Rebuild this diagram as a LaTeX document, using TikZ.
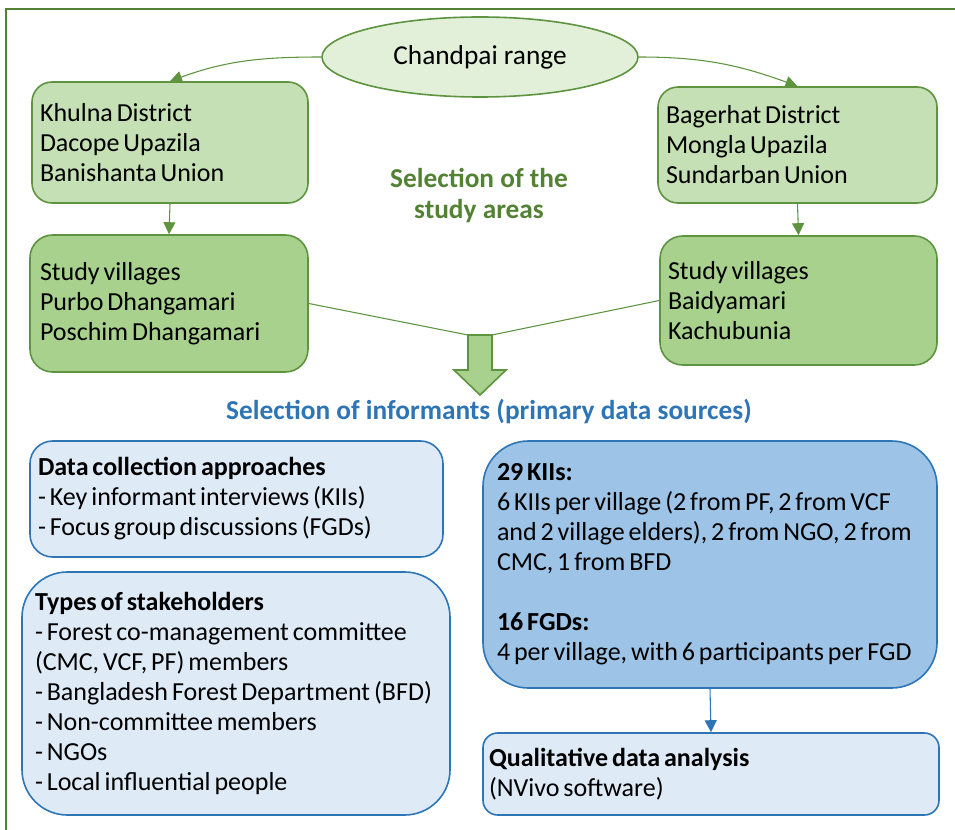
\documentclass[tikz,border=0pt]{standalone}
\usepackage{fontspec}
\setmainfont{Carlito}
\usetikzlibrary{arrows.meta,shapes.geometric}

\definecolor{framegreen}{HTML}{538135}
\definecolor{edgegreen}{HTML}{5E9440}
\definecolor{palegreen}{HTML}{E2F0D9}
\definecolor{lightgreen}{HTML}{C5E0B4}
\definecolor{midgreen}{HTML}{A9D18E}
\definecolor{titlegreen}{HTML}{548235}
\definecolor{edgeblue}{HTML}{2E75B6}
\definecolor{titleblue}{HTML}{2E75B6}
\definecolor{paleblue}{HTML}{DEEBF7}
\definecolor{midblue}{HTML}{9DC3E6}

\tikzset{
  txt/.style={font=\fontsize{19.5pt}{22.5pt}\selectfont,
    execute at begin node={\spaceskip=0.15em plus 0.05em\relax\xspaceskip=0.2em\relax}},
  greenbox/.style={txt, draw=edgegreen, line width=1.2pt, align=left, inner ysep=0pt},
  bluebox/.style={txt, draw=edgeblue, line width=1.2pt, align=left, inner ysep=0pt},
  heading/.style={font=\fontsize{20.5pt}{23.25pt}\selectfont\bfseries},
  greenlink/.style={draw=edgegreen, line width=0.8pt},
  greenarrow/.style={greenlink, -{Triangle[length=9pt,width=9pt]}},
  bluearrow/.style={draw=edgeblue, line width=0.8pt, -{Triangle[length=9pt,width=9pt]}},
}

\begin{document}
\begin{tikzpicture}[x=0.75pt,y=-0.75pt]
  \useasboundingbox (0,0) rectangle (955,830);
  \fill[white] (0,0) rectangle (955,830);
  % outer frame
  \draw[framegreen, line width=1.9pt] (6,9) rectangle (975,850);

  % study area selection
  \node[ellipse, draw=edgegreen, fill=palegreen, line width=1.2pt,
        minimum width=237pt, minimum height=60pt, inner sep=0pt,
        font=\fontsize{20.5pt}{24pt}\selectfont] (range) at (480,57) {Chandpai range};

  \node[greenbox, fill=lightgreen, rounded corners=15pt, minimum width=207pt, minimum height=90.75pt,
        inner xsep=6pt, text width=195pt] (khulna) at (170,142.5)
        {Khulna District\\Dacope Upazila\\Banishanta Union};
  \node[greenbox, fill=lightgreen, rounded corners=15pt, minimum width=209.25pt, minimum height=87pt,
        inner xsep=6pt, text width=197.25pt] (bagerhat) at (797.5,145)
        {Bagerhat District\\Mongla Upazila\\Sundarban Union};

  \node[greenbox, fill=midgreen, rounded corners=17pt, minimum width=208.5pt, minimum height=102.75pt,
        inner xsep=7.5pt, text width=193.5pt] (villagesW) at (169,303.5)
        {Study villages\\Purbo Dhangamari\\Poschim Dhangamari};
  \node[greenbox, fill=midgreen, rounded corners=17pt, minimum width=207.75pt, minimum height=96.75pt,
        inner xsep=6pt, text width=195.75pt] (villagesE) at (798.5,300.5)
        {Study villages\\Baidyamari\\Kachubunia};

  \node[heading, text=titlegreen, align=center]
        (areas) at (479,196) {Selection of the\\study areas};

  \draw[greenarrow] (range.west) to[out=180, in=20] (khulna.north);
  \draw[greenarrow] (range.east) to[out=0, in=160] (bagerhat.north);
  \draw[greenarrow] (khulna.south) -- (villagesW.north);
  \draw[greenarrow] (bagerhat.south) -- (villagesE.north);

  % block arrow joining both village groups
  \coordinate (shaftL) at (468,335);
  \coordinate (shaftR) at (492,335);
  \draw[greenlink] (villagesW.east) -- (shaftL);
  \draw[greenlink] (shaftR) -- (villagesE.west);
  \draw[draw=edgegreen, fill=midgreen, line width=1.2pt, line join=miter]
    (shaftL) -- (shaftR) -- (492,370) -- (506,370) -- (480,395) -- (454,370) -- (468,370) -- cycle;

  \node[heading, text=titleblue]
        (informants) at (489,412) {Selection of informants (primary data sources)};

  % informant selection
  \node[bluebox, fill=paleblue, rounded corners=17pt, minimum width=309.75pt, minimum height=87pt,
        inner xsep=6pt, text width=297.75pt] (approach) at (236.5,499)
        {\textbf{Data collection approaches}\\- Key informant interviews (KIIs)\\- Focus group discussions (FGDs)\\[9pt]};

  \node[bluebox, fill=paleblue, rounded corners=34pt, minimum width=321pt, minimum height=182.25pt,
        inner xsep=9.75pt, text width=301.5pt] (stake) at (236,693.5)
        {\textbf{Types of stakeholders}\\- Forest co-management committee\\(CMC, VCF, PF) members\\\mbox{- Bangladesh Forest Department (BFD)}\\- Non-committee members\\- NGOs\\- Local influential people};

  \node[bluebox, fill=midblue, rounded corners=34pt, minimum width=340.5pt, minimum height=185.25pt,
        inner xsep=10.5pt, text width=319.5pt] (counts) at (710,564.5)
        {\textbf{29 KIIs:}\\\mbox{6 KIIs per village (2 from PF, 2 from VCF}\\\mbox{and 2 village elders), 2 from NGO, 2 from}\\CMC, 1 from BFD\\[22.5pt]\textbf{16 FGDs:}\\\mbox{4 per village, with 6 participants per FGD}};

  \node[bluebox, fill=paleblue, rounded corners=11pt, minimum width=342pt, minimum height=61.5pt,
        inner xsep=4.5pt, text width=333pt] (analysis) at (711,774)
        {\textbf{Qualitative data analysis}\\(NVivo software)};

  \draw[bluearrow] (counts.south) -- (analysis.north);
\end{tikzpicture}
\end{document}
